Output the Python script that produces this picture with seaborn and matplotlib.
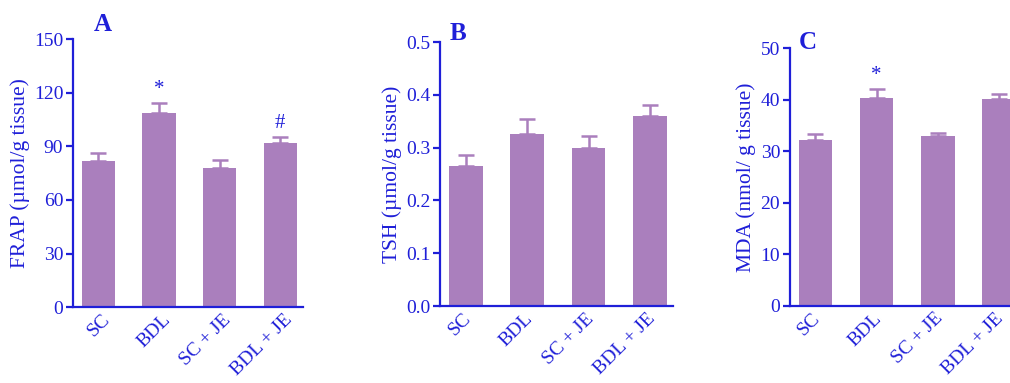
"""Three-panel bar chart: FRAP, TSH and MDA by group (mean + SEM)."""

import pandas as pd
import seaborn as sns
import matplotlib
matplotlib.use("Agg")
import matplotlib.pyplot as plt
import matplotlib.transforms as mtransforms

GROUPS = ["SC", "BDL", "SC + JE", "BDL + JE"]

FRAP_MEAN = [82, 108.5, 78, 92]
FRAP_SEM = [4.5, 5.5, 4.2, 3.0]
FRAP_MARK = ["", "*", "", "#"]

TSH_MEAN = [0.266, 0.326, 0.300, 0.360]
TSH_SEM = [0.021, 0.028, 0.022, 0.021]
TSH_MARK = ["", "", "", ""]

MDA_MEAN = [32.2, 40.4, 33.0, 40.1]
MDA_SEM = [1.1, 1.7, 0.5, 1.0]
MDA_MARK = ["", "*", "", ""]

BAR_COLOR = "#aa7fbd"
INK = "#1f1fd8"

PANELS = [
    # letter, letter pos, ylabel, means, sems, marks, ymax, step, rect, label dx
    ("A", (0.13, 1.056), "FRAP (µmol/g tissue)", FRAP_MEAN, FRAP_SEM,
     FRAP_MARK, 150, 30, [0.0723, 0.198, 0.228, 0.700], 9),
    ("B", (0.077, 1.034), "TSH (µmol/g tissue)", TSH_MEAN, TSH_SEM,
     TSH_MARK, 0.5, 0.1, [0.4356, 0.201, 0.231, 0.689], 3),
    ("C", (0.078, 1.023), "MDA (nmol/ g tissue)", MDA_MEAN, MDA_SEM,
     MDA_MARK, 50, 10, [0.782, 0.202, 0.230, 0.672], 2),
]


def plot_panels():
    sns.set_theme(style="ticks")
    plt.rcParams.update({
        "font.family": ["Liberation Serif", "DejaVu Serif"],
        "axes.edgecolor": INK,
        "axes.labelcolor": INK,
        "xtick.color": INK,
        "ytick.color": INK,
        "axes.linewidth": 1.6,
    })

    fig = plt.figure(figsize=(10.10, 3.83), dpi=100)

    for (letter, lpos, ylabel, means, sems, marks, ymax, step, rect,
         dx) in PANELS:
        ax = fig.add_axes(rect)
        df = pd.DataFrame({"Group": GROUPS, "Value": means})
        sns.barplot(data=df, x="Group", y="Value", color=BAR_COLOR,
                    saturation=1, width=0.55, ax=ax, errorbar=None,
                    linewidth=0)
        ax.errorbar(range(len(GROUPS)), means,
                    yerr=[[0] * len(sems), sems], fmt="none",
                    ecolor=BAR_COLOR, elinewidth=1.8, capsize=6,
                    capthick=1.8, zorder=1)

        for i, mk in enumerate(marks):
            if mk:
                ax.annotate(mk, xy=(i, means[i] + sems[i]),
                            xytext=(0, 3), textcoords="offset points",
                            ha="center", va="bottom", color=INK,
                            fontsize=15)

        ax.set_xlim(-0.42, 3.38)
        ax.set_ylim(0, ymax)
        n = int(round(ymax / step))
        ticks = [round(step * k, 3) for k in range(n + 1)]
        ax.set_yticks(ticks)
        if ymax < 1:
            ax.set_yticklabels([f"{t:.1f}" for t in ticks])
        ax.set_ylabel(ylabel, fontsize=15.5, labelpad=3)
        ax.set_xlabel("")
        ax.tick_params(axis="y", direction="out", length=5, width=1.6,
                       labelsize=14, pad=2)
        ax.tick_params(axis="x", length=0, labelsize=14, pad=0)
        shift = mtransforms.ScaledTranslation(dx / 100, -10 / 100,
                                              fig.dpi_scale_trans)
        for lab in ax.get_xticklabels():
            lab.set_rotation(45)
            lab.set_ha("right")
            lab.set_va("center")
            lab.set_rotation_mode("anchor")
            lab.set_transform(lab.get_transform() + shift)
        sns.despine(ax=ax)
        ax.text(lpos[0], lpos[1], letter, transform=ax.transAxes,
                fontsize=18, fontweight="bold", color=INK,
                ha="center", va="center")

    fig.savefig("out.png", dpi=100)
    plt.close(fig)


if __name__ == "__main__":
    plot_panels()
